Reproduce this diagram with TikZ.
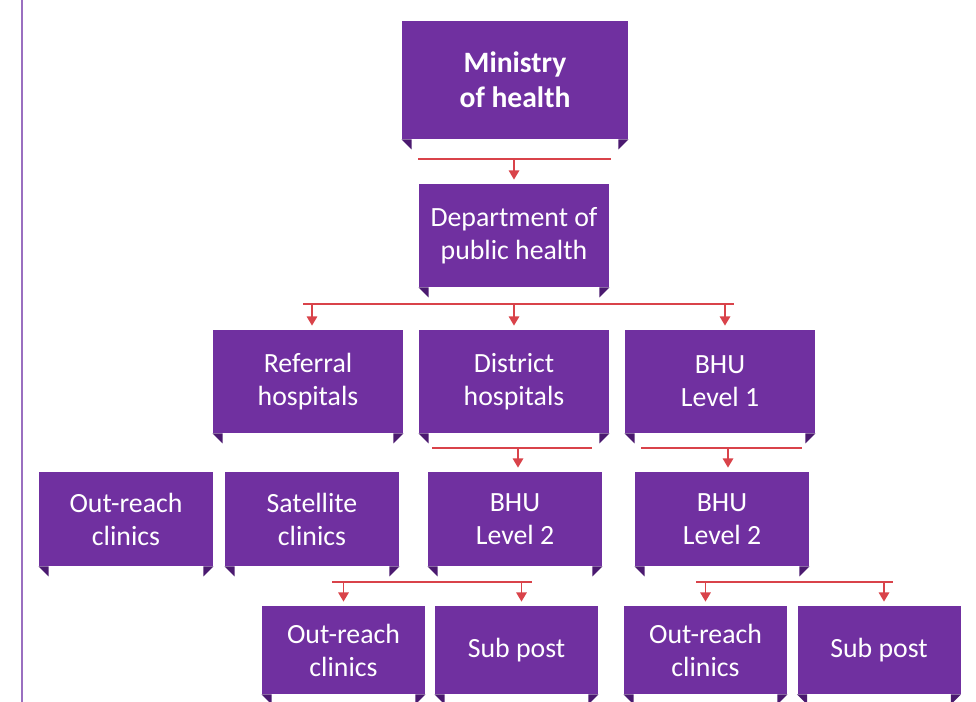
\documentclass[tikz,border=0pt]{standalone}
\usepackage{fontspec}
\setmainfont{Carlito}
\usetikzlibrary{arrows.meta}

\definecolor{boxpurple}{HTML}{7030A0}
\definecolor{flappurple}{HTML}{4B1A70}
\definecolor{linkred}{HTML}{D9434A}
\definecolor{rulelilac}{HTML}{9A6FC0}

\tikzset{
  unit/.style={fill=boxpurple,text=white,inner sep=0pt,align=center,
    font=\fontsize{13.9}{16.5}\selectfont},
  topunit/.style={unit,minimum width=113pt,minimum height=59pt,
    font=\fontsize{14.8}{17.5}\selectfont\bfseries},
  midunit/.style={unit,minimum width=95pt,minimum height=51.5pt},
  lowunit/.style={unit,minimum width=87pt,minimum height=47pt},
  leafunit/.style={unit,minimum width=81.5pt,minimum height=44pt},
  bar/.style={draw=linkred,line width=0.9pt},
  drop/.style={draw=linkred,line width=0.9pt,
    -{Triangle[width=5.2pt,length=4.6pt]},shorten >=2pt}
}

% little folded corners under a box
\newcommand{\flaps}[1]{%
  \fill[flappurple] (#1.south west) -- ++(5pt,0) -- ++(0,-5pt) -- cycle;
  \fill[flappurple] (#1.south east) -- ++(-5pt,0) -- ++(0,-5pt) -- cycle;}

\begin{document}
\begin{tikzpicture}[x=0.5pt,y=-0.5pt]
  \useasboundingbox (0,0) rectangle (976,702);
  \draw[rulelilac,line width=1pt] (22,0) -- (22,702);

  % boxes
  \node[topunit] (moh) at (515,80) {Ministry\\of health};
  \node[midunit] (dph) at (514,235.5) {Department of\\public health};
  \node[midunit] (ref) at (308,381.5) {Referral\\hospitals};
  \node[midunit] (dist) at (514,381.5) {District\\hospitals};
  \node[midunit] (bhuone) at (720,381.5) {BHU\\Level 1};
  \node[lowunit] (outa) at (126,519) {Out-reach\\clinics};
  \node[lowunit] (sat) at (312,519) {Satellite\\clinics};
  \node[lowunit] (bhutwoa) at (515,519) {BHU\\Level 2};
  \node[lowunit] (bhutwob) at (722,519) {BHU\\Level 2};
  \node[leafunit] (outb) at (343.5,650) {Out-reach\\clinics};
  \node[leafunit] (suba) at (516.5,650) {Sub post};
  \node[leafunit] (outc) at (705.5,650) {Out-reach\\clinics};
  \node[leafunit] (subb) at (879,650) {Sub post};

  \foreach \n in {moh,dph,ref,dist,bhuone,outa,sat,bhutwoa,bhutwob,outb,suba,outc,subb}
    {\flaps{\n}}

  % connectors
  \coordinate (mohl) at (418,159);
  \coordinate (mohr) at (611,159);
  \draw[bar] (mohl) -- (mohr);
  \draw[drop] (mohl -| dph.north) -- (dph.north);

  \coordinate (dphl) at (303,304);
  \coordinate (dphr) at (734,304);
  \draw[bar] (dphl) -- (dphr);
  \draw[drop] ([xshift=2pt]dphl -| ref.north) -- ([xshift=2pt]ref.north);
  \draw[drop] (dphl -| dist.north) -- (dist.north);
  \draw[drop] ([xshift=2.5pt]dphl -| bhuone.north) -- ([xshift=2.5pt]bhuone.north);

  \coordinate (distl) at (432,448);
  \coordinate (distr) at (592,448);
  \draw[bar] (distl) -- (distr);
  \draw[drop] ([xshift=1.5pt]distl -| bhutwoa.north) -- ([xshift=1.5pt]bhutwoa.north);

  \coordinate (bhuonel) at (641,448);
  \coordinate (bhuoner) at (802,448);
  \draw[bar] (bhuonel) -- (bhuoner);
  \draw[drop] ([xshift=3pt]bhuonel -| bhutwob.north) -- ([xshift=3pt]bhutwob.north);

  \coordinate (bhutwoal) at (332,582);
  \coordinate (bhutwoar) at (532,582);
  \draw[bar] (bhutwoal) -- (bhutwoar);
  \draw[drop] (bhutwoal -| outb.north) -- (outb.north);
  \draw[drop] ([xshift=2.5pt]bhutwoal -| suba.north) -- ([xshift=2.5pt]suba.north);

  \coordinate (bhutwobl) at (696,582);
  \coordinate (bhutwobr) at (893,582);
  \draw[bar] (bhutwobl) -- (bhutwobr);
  \draw[drop] (bhutwobl -| outc.north) -- (outc.north);
  \draw[drop] ([xshift=2.5pt]bhutwobl -| subb.north) -- ([xshift=2.5pt]subb.north);
\end{tikzpicture}
\end{document}
